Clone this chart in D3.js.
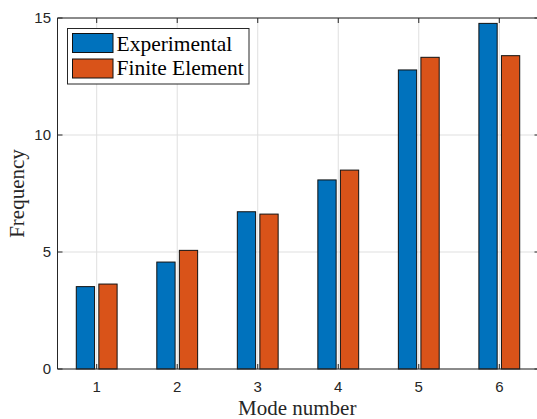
<!DOCTYPE html>
<html>
<head>
<meta charset="utf-8">
<script src="https://cdn.jsdelivr.net/npm/d3@7"></script>
<style>
  body { margin: 0; background: #fff; }
  svg { display: block; }
</style>
</head>
<body>
<div id="chart"></div>
<script>
// data
var modes = [1, 2, 3, 4, 5, 6];
var experimental = [3.52, 4.57, 6.72, 8.08, 12.78, 14.77];
var finiteElement = [3.63, 5.07, 6.62, 8.50, 13.32, 13.39];
var seriesNames = ["Experimental", "Finite Element"];
var seriesColors = ["#0072BD", "#D95319"];
var yTicks = [0, 5, 10, 15];

drawChart();

function drawChart() {
    var width = 537, height = 419;
    var pLeft = 57.5, pRight = 539.5, pTop = 18, pBottom = 369;

    var svg = d3.select("#chart")
        .append("svg")
        .attr("width", width)
        .attr("height", height);

    var x = d3.scaleLinear().domain([1, 6]).range([96.7, 499.3]);
    var y = d3.scaleLinear().domain([0, 15]).range([pBottom, pTop]);

    var gridColor = "#dfdfdf";
    var axisColor = "#262626";

    // grid
    svg.append("g").selectAll("line")
        .data(modes).enter()
        .append("line")
        .attr("x1", d => x(d)).attr("x2", d => x(d))
        .attr("y1", pTop).attr("y2", pBottom)
        .attr("stroke", gridColor).attr("stroke-width", 1);

    svg.append("g").selectAll("line")
        .data(yTicks).enter()
        .append("line")
        .attr("x1", pLeft).attr("x2", pRight)
        .attr("y1", d => y(d)).attr("y2", d => y(d))
        .attr("stroke", gridColor).attr("stroke-width", 1);

    // bars
    var barOffset = 0.14, barWidth = 0.227;
    var series = [experimental, finiteElement];

    series.forEach(function(vals, s) {
        var off = s === 0 ? -barOffset : barOffset;
        svg.append("g").selectAll("rect")
            .data(modes).enter()
            .append("rect")
            .attr("x", d => x(d + off - barWidth / 2))
            .attr("width", x(barWidth) - x(0))
            .attr("y", (d, i) => y(vals[i]))
            .attr("height", (d, i) => y(0) - y(vals[i]))
            .attr("fill", seriesColors[s])
            .attr("stroke", "#111")
            .attr("stroke-width", 1);
    });

    // axes box and ticks
    var frame = svg.append("g")
        .attr("stroke", axisColor)
        .attr("stroke-width", 1)
        .attr("fill", "none");

    frame.append("line").attr("x1", pLeft).attr("x2", pLeft).attr("y1", pTop).attr("y2", pBottom);
    frame.append("line").attr("x1", pRight).attr("x2", pRight).attr("y1", pTop).attr("y2", pBottom);
    frame.append("line").attr("x1", pLeft).attr("x2", pRight).attr("y1", pTop).attr("y2", pTop);
    frame.append("line").attr("x1", pLeft).attr("x2", pRight).attr("y1", pBottom).attr("y2", pBottom);

    var tl = 5;
    modes.forEach(function(d) {
        frame.append("line").attr("x1", x(d)).attr("x2", x(d)).attr("y1", pBottom).attr("y2", pBottom - tl);
        frame.append("line").attr("x1", x(d)).attr("x2", x(d)).attr("y1", pTop).attr("y2", pTop + tl);
    });
    yTicks.forEach(function(d) {
        frame.append("line").attr("x1", pLeft).attr("x2", pLeft + tl).attr("y1", y(d)).attr("y2", y(d));
        frame.append("line").attr("x1", pRight).attr("x2", pRight - tl).attr("y1", y(d)).attr("y2", y(d));
    });

    // tick labels
    svg.append("g").selectAll("text")
        .data(modes).enter()
        .append("text")
        .attr("x", d => x(d))
        .attr("y", 392)
        .attr("text-anchor", "middle")
        .attr("font-family", "Liberation Sans, Arial, sans-serif")
        .attr("font-size", 15)
        .attr("fill", axisColor)
        .text(d => d);

    svg.append("g").selectAll("text")
        .data(yTicks).enter()
        .append("text")
        .attr("x", 51)
        .attr("y", d => y(d) + 5.4)
        .attr("text-anchor", "end")
        .attr("font-family", "Liberation Sans, Arial, sans-serif")
        .attr("font-size", 15)
        .attr("fill", axisColor)
        .text(d => d);

    // axis labels
    svg.append("text")
        .attr("x", (pLeft + 537) / 2)
        .attr("y", 414.5)
        .attr("text-anchor", "middle")
        .attr("font-family", "Liberation Serif, Times New Roman, serif")
        .attr("font-size", 21)
        .attr("fill", axisColor)
        .text("Mode number");

    svg.append("text")
        .attr("transform", "translate(24," + ((pTop + pBottom) / 2) + ") rotate(-90)")
        .attr("text-anchor", "middle")
        .attr("font-family", "Liberation Serif, Times New Roman, serif")
        .attr("font-size", 21)
        .attr("fill", axisColor)
        .text("Frequency");

    // legend
    var legend = svg.append("g");
    legend.append("rect")
        .attr("x", 67.5).attr("y", 28.5)
        .attr("width", 181.5).attr("height", 55.5)
        .attr("fill", "#fff")
        .attr("stroke", axisColor)
        .attr("stroke-width", 1);

    seriesNames.forEach(function(name, i) {
        legend.append("rect")
            .attr("x", 72.5).attr("y", 33.5 + i * 25.5)
            .attr("width", 40.5).attr("height", 19)
            .attr("fill", seriesColors[i])
            .attr("stroke", "#111")
            .attr("stroke-width", 1);
        legend.append("text")
            .attr("x", 116.5)
            .attr("y", 50.7 + i * 24.5)
            .attr("font-family", "Liberation Serif, Times New Roman, serif")
            .attr("font-size", 21.5)
            .attr("fill", "#000")
            .text(name);
    });
}
</script>
</body>
</html>
